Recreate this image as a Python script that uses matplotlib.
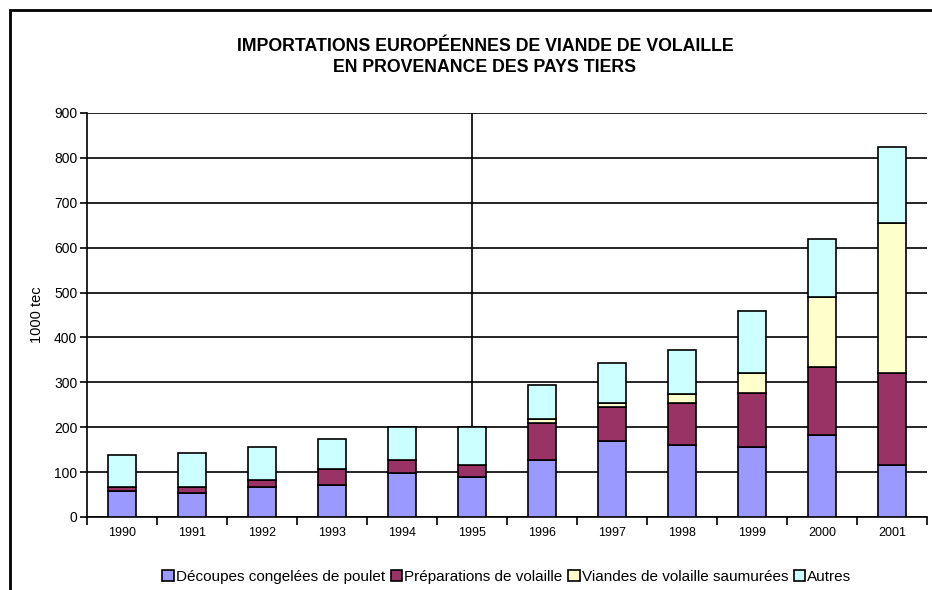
import matplotlib.pyplot as plt
from matplotlib.patches import Rectangle

plt.rcParams['font.family'] = ['Liberation Sans', 'DejaVu Sans']

# Données (1000 tec)
annees = ["1990", "1991", "1992", "1993", "1994", "1995",
          "1996", "1997", "1998", "1999", "2000", "2001"]
decoupes = [58, 54, 67, 71, 98, 89, 126, 169, 160, 156, 183, 116]
preparations = [8, 13, 15, 36, 28, 27, 83, 76, 94, 120, 151, 205]
saumurees = [0, 0, 0, 0, 0, 0, 10, 8, 19, 45, 156, 334]
autres = [72, 76, 74, 67, 75, 85, 76, 90, 98, 138, 130, 169]

series = [
    ("Découpes congelées de poulet", decoupes, "#9999FF"),
    ("Préparations de volaille", preparations, "#993366"),
    ("Viandes de volaille saumurées", saumurees, "#FFFFCC"),
    ("Autres", autres, "#CCFFFF"),
]

fig = plt.figure(figsize=(9.32, 5.9), dpi=100)
ax = fig.add_axes([87 / 932, 1 - 517 / 590, 840 / 932, 404 / 590])

x = list(range(len(annees)))
bas = [0] * len(annees)
for nom, vals, couleur in series:
    ax.bar(x, vals, width=0.41, bottom=bas, color=couleur,
           edgecolor="black", linewidth=1.2, label=nom, zorder=3)
    bas = [b + v for b, v in zip(bas, vals)]

# ligne verticale en 1995
ax.axvline(annees.index("1995"), color="black", linewidth=1.2, zorder=1)

ax.set_xlim(-0.5, len(annees) - 0.5)
ax.set_ylim(0, 900)
ax.set_yticks(range(0, 901, 100))
ax.grid(axis="y", color="black", linewidth=1.2, zorder=0)
ax.set_xticks(x)
ax.set_xticklabels(annees, fontsize=9)
ax.set_xticks([i - 0.5 for i in range(len(annees) + 1)], minor=True)
ax.tick_params(axis="x", which="major", length=0, pad=7)
ax.tick_params(axis="x", which="minor", length=6, width=1.2, direction="out")
ax.tick_params(axis="y", labelsize=10, length=5, width=1.2, pad=2)
for s in ["top", "right"]:
    ax.spines[s].set_visible(False)
ax.spines["left"].set_linewidth(1.2)
ax.spines["bottom"].set_linewidth(1.2)

ax.set_ylabel("1000 tec", fontsize=10.5, labelpad=7)

fig.text(485 / 932, 1 - 57 / 590,
         "IMPORTATIONS EUROPÉENNES DE VIANDE DE VOLAILLE\nEN PROVENANCE DES PAYS TIERS",
         ha="center", va="center", fontsize=12.8, fontweight="bold", linespacing=1.3)

fig.legend(loc="center", bbox_to_anchor=(507 / 932, 1 - 577 / 590), ncol=4,
           frameon=False, fontsize=11, handlelength=0.75, handleheight=0.75,
           handletextpad=0.15, columnspacing=0.35, borderpad=0)

# cadre extérieur
fig.patches.append(Rectangle((10 / 932, -0.05), 1.0, 1 - 10 / 590 + 0.05,
                             transform=fig.transFigure, fill=False,
                             edgecolor="black", linewidth=2))

fig.savefig("out.png", dpi=100)
